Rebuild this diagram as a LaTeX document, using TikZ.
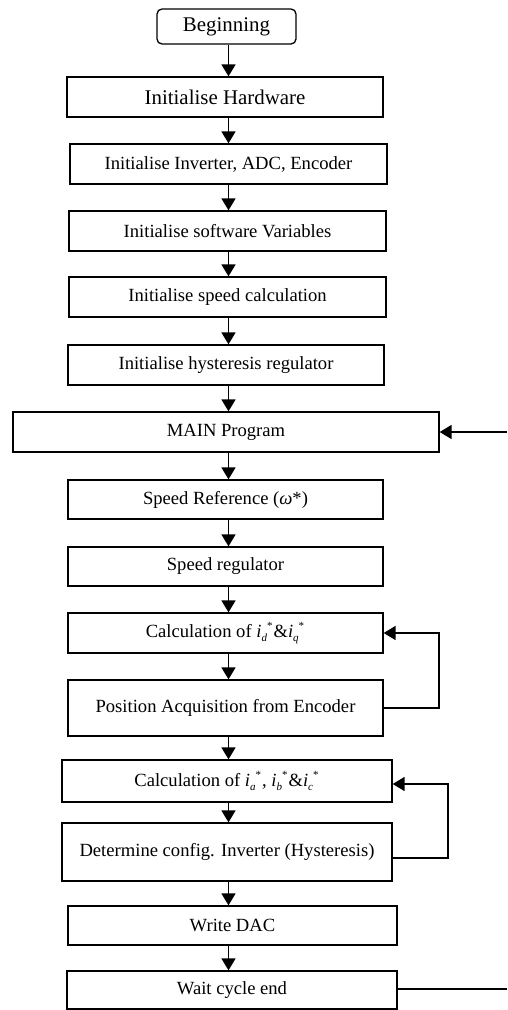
\documentclass[tikz,border=0pt]{standalone}
\usepackage{fontspec}
\setmainfont{Liberation Serif}
\usetikzlibrary{arrows.meta}
\newcommand\cur[1]{\textit{i}\raisebox{-0.5ex}{\fontsize{11}{11}\selectfont\textit{#1}}\raisebox{0.9ex}{\fontsize{11}{11}\selectfont *}\kern1pt}
\tikzset{
  box/.style={draw, line width=1.3pt, inner sep=0pt, align=center, font=\fontsize{18.6}{21}\selectfont},
  bigtext/.style={font=\fontsize{20.9}{23}\selectfont},
  arr/.style={line width=1.6pt, -{Triangle[length=12pt,width=14pt]}},
  line/.style={line width=1.6pt}
}
\begin{document}
\begin{tikzpicture}[x=1pt,y=-1pt]
\useasboundingbox (0,0) rectangle (507,1010);
\node[box, bigtext, rounded corners=5pt, minimum width=139pt, minimum height=35pt] (begin) at (226.5,26.5) {Beginning};
\node[box, bigtext, minimum width=316pt, minimum height=40pt] (hw) at (225,97) {Initialise Hardware};
\node[box, minimum width=317pt, minimum height=40pt] (inv) at (228.5,164) {Initialise Inverter, ADC, Encoder};
\node[box, minimum width=317pt, minimum height=40pt] (sw) at (227.5,231) {Initialise software Variables};
\node[box, minimum width=317pt, minimum height=40pt] (spd) at (227.5,297) {Initialise speed calculation};
\node[box, minimum width=316pt, minimum height=40pt] (hys) at (226,365) {Initialise hysteresis regulator};
\node[box, minimum width=426pt, minimum height=40pt] (main) at (226,432) {MAIN Program};
\node[box, minimum width=315pt, minimum height=39pt] (ref) at (225.5,499.5) {Speed Reference (\textit{ω}*)};
\node[box, minimum width=315pt, minimum height=39pt] (reg) at (225.5,566.5) {Speed regulator};
\node[box, minimum width=315pt, minimum height=40pt] (cid) at (225.5,633) {Calculation of \cur{d}\&\cur{q}};
\node[box, minimum width=315pt, minimum height=56pt] (pos) at (225.5,708) {Position Acquisition from Encoder};
\node[box, minimum width=330pt, minimum height=42pt] (cia) at (227,781) {Calculation of \cur{a}, \cur{b}\&\cur{c}};
\node[box, minimum width=330pt, minimum height=58pt] (det) at (227,852) {Determine config. Inverter (Hysteresis)};
\node[box, minimum width=329pt, minimum height=39pt] (dac) at (232.5,925.5) {Write DAC};
\node[box, minimum width=330pt, minimum height=38pt] (wait) at (232,990) {Wait cycle end};
\coordinate (cx) at (228.5,0);
\foreach \a/\b in {begin/hw,hw/inv,inv/sw,sw/spd,spd/hys,hys/main,main/ref,ref/reg,reg/cid,cid/pos,pos/cia,cia/det,det/dac,dac/wait}
  \draw[arr] (\a.south -| cx) -- (\b.north -| cx);
% loop 1
\coordinate (fa) at (439,0);
\draw[arr] (pos.east) -- (pos.east -| fa) -- (cid.east -| fa) -- (cid.east);
% loop 2
\coordinate (fb) at (448,0);
\coordinate (dout) at ([yshift=-6pt]det.east);
\coordinate (cin) at ([yshift=-3pt]cia.east);
\draw[arr] (dout) -- (dout -| fb) -- (cin -| fb) -- (cin);
% main loop
\coordinate (r1) at (507,989);
\coordinate (r2) at (507,432);
\draw[line] (wait.east |- r1) -- (r1);
\draw[arr] (r2) -- (main.east);
\end{tikzpicture}
\end{document}
